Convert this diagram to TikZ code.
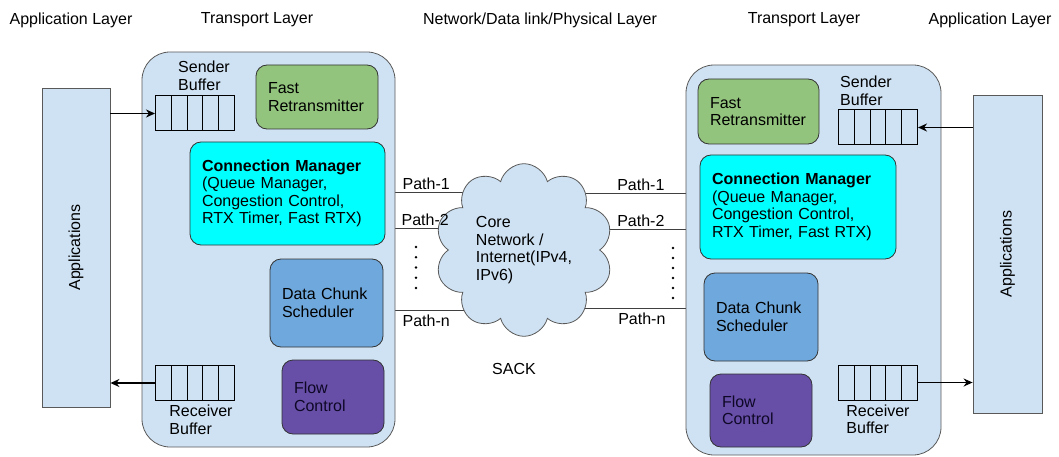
\documentclass[tikz,border=0pt]{standalone}
\usepackage{fontspec}
\setmainfont{Liberation Sans}
\usetikzlibrary{positioning, arrows.meta, shapes.symbols, backgrounds}
\definecolor{layerblue}{HTML}{CFE2F3}
\definecolor{edgegray}{HTML}{595959}
\definecolor{retxgreen}{HTML}{93C47D}
\definecolor{connaqua}{HTML}{00FFFF}
\definecolor{schedblue}{HTML}{6FA8DC}
\definecolor{flowpurple}{HTML}{674EA7}
\definecolor{flowtext}{HTML}{0E0826}
\tikzset{
>={Stealth[length=9pt, width=8pt]}, % filled arrow heads
every node/.style={font=\fontsize{16}{17.5}\selectfont},
transport/.style={draw=edgegray, fill=layerblue, rounded corners=28pt, line width=0.8pt}, % big layer boxes
app/.style={draw=edgegray, fill=layerblue, line width=0.8pt, rotate=90},
module/.style={draw=black!80, rounded corners=11pt, line width=0.8pt, align=left, inner xsep=12pt},
buffer/.style={draw=black, line width=1pt, minimum width=79pt, minimum height=35pt,
  path picture={\foreach \i in {1,...,4}
    \draw[line width=1pt] ([xshift=\i*15.8pt]path picture bounding box.north west) -- ([xshift=\i*15.8pt]path picture bounding box.south west);}},
caption/.style={align=left, inner sep=0pt},
link/.style={draw=black!75, line width=0.8pt},
flow/.style={->, line width=1.4pt},
}

\begin{document}
\begin{tikzpicture}[x=1pt, y=-1pt]
        \useasboundingbox (0,0) rectangle (1059,457);

        % layer titles
        \node (appTitleL) at (71,20) {Application Layer};
        \node (tpTitleL) at (257,20) {Transport Layer};
        \node (netTitle) at (540,20) {Network/Data link/Physical Layer};
        \node (tpTitleR) at (804,20) {Transport Layer};
        \node (appTitleR) at (990,20) {Application Layer};

        % left host
        \node[app, minimum width=319pt, minimum height=68pt] (appL) at (76,247.5) {Applications};
        \node[transport, minimum width=253pt, minimum height=395pt] (transL) at (268.5,249.5) {};
        \node[module, fill=retxgreen, text width=98pt, minimum height=64pt] (fastL) at (317,97) {Fast\\Retransmitter};
        \node[module, fill=connaqua, text width=171pt, minimum height=103pt] (connL) at (287.5,193.5)
          {\textbf{Connection Manager}\\(Queue Manager,\\Congestion Control,\\RTX Timer, Fast RTX)};
        \node[module, fill=schedblue, text width=89pt, minimum height=88pt] (schedL) at (326.5,303) {Data Chunk\\Scheduler};
        \node[module, fill=flowpurple, text=flowtext, text width=78pt, minimum height=74pt] (flowL) at (333,397) {Flow\\Control};
        \node[buffer] (sbufL) at (195,113.5) {};
        \node[buffer] (rbufL) at (195,383) {};
        \node[caption, above=5pt of sbufL, xshift=9pt] (sbufLtxt) {Sender\\Buffer};
        \node[caption, below=4pt of rbufL, xshift=6pt] (rbufLtxt) {Receiver\\Buffer};

        % right host
        \node[app, minimum width=318pt, minimum height=69pt] (appR) at (1007.5,254) {Applications};
        \node[transport, minimum width=255pt, minimum height=390pt] (transR) at (813.5,260) {};
        \node[module, fill=retxgreen, text width=97pt, minimum height=65pt] (fastR) at (758.5,111.5) {Fast\\Retransmitter};
        \node[module, fill=connaqua, text width=172pt, minimum height=104pt] (connR) at (798,207)
          {\textbf{Connection Manager}\\(Queue Manager,\\Congestion Control,\\RTX Timer, Fast RTX)};
        \node[module, fill=schedblue, text width=90pt, minimum height=88pt] (schedR) at (761,317) {Data Chunk\\Scheduler};
        \node[module, fill=flowpurple, text=flowtext, text width=78pt, minimum height=73pt] (flowR) at (761,410.5) {Flow\\Control};
        \node[buffer] (sbufR) at (878,127.5) {};
        \node[buffer] (rbufR) at (878,382.5) {};
        \node[caption, above=4pt of sbufR, xshift=-12pt] (sbufRtxt) {Sender\\Buffer};
        \node[caption, below=4pt of rbufR] (rbufRtxt) {Receiver\\Buffer};

        % network core
        \node[cloud, cloud puffs=10, draw=edgegray, fill=layerblue, line width=0.8pt,
          minimum width=178pt, minimum height=166pt, align=left] (core) at (524,250)
          {Core\\Network /\\Internet(IPv4,\\IPv6)};
        \node (sack) at (514,369) {SACK};

        % paths
        \path (transL.east |- 0,192) coordinate (p1L)
              (transL.east |- 0,228) coordinate (p2L)
              (transL.east |- 0,310) coordinate (pnL)
              (transR.west |- 0,193) coordinate (p1R)
              (transR.west |- 0,229) coordinate (p2R)
              (transR.west |- 0,308) coordinate (pnR);
        \begin{scope}[on background layer]
          \draw[link] (p1L) -- (core.center |- p1L);
          \draw[link] (p2L) -- (core.center |- p2L);
          \draw[link] (pnL) -- (core.center |- pnL);
          \draw[link] (p1R) -- (core.center |- p1R);
          \draw[link] (p2R) -- (core.center |- p2R);
          \draw[link] (pnR) -- (core.center |- pnR);
        \end{scope}
        \node[caption, above right=2pt and 7pt of p1L] (p1Ltxt) {Path-1};
        \node[caption, above right=2pt and 6pt of p2L] (p2Ltxt) {Path-2};
        \node[caption, below right=5pt and 7pt of pnL] (pnLtxt) {Path-n};
        \node[caption, above left=2pt and 21pt of p1R] (p1Rtxt) {Path-1};
        \node[caption, above left=2pt and 21pt of p2R] (p2Rtxt) {Path-2};
        \node[caption, below left=5pt and 20pt of pnR] (pnRtxt) {Path-n};
        \foreach \k in {0,...,4}
          \fill (416,247+10.25*\k) circle (1.4pt);
        \foreach \k in {0,...,5}
          \fill (673,248+10*\k) circle (1.4pt);

        % data flow
        \draw[flow] (appL.south |- sbufL.west) -- (sbufL.west);
        \draw[flow] (rbufL.west) -- (appL.south |- rbufL.west);
        \draw[flow] (appR.north |- sbufR.east) -- (sbufR.east);
        \draw[flow] (rbufR.east) -- (appR.north |- rbufR.east);
      \end{tikzpicture}
\end{document}
